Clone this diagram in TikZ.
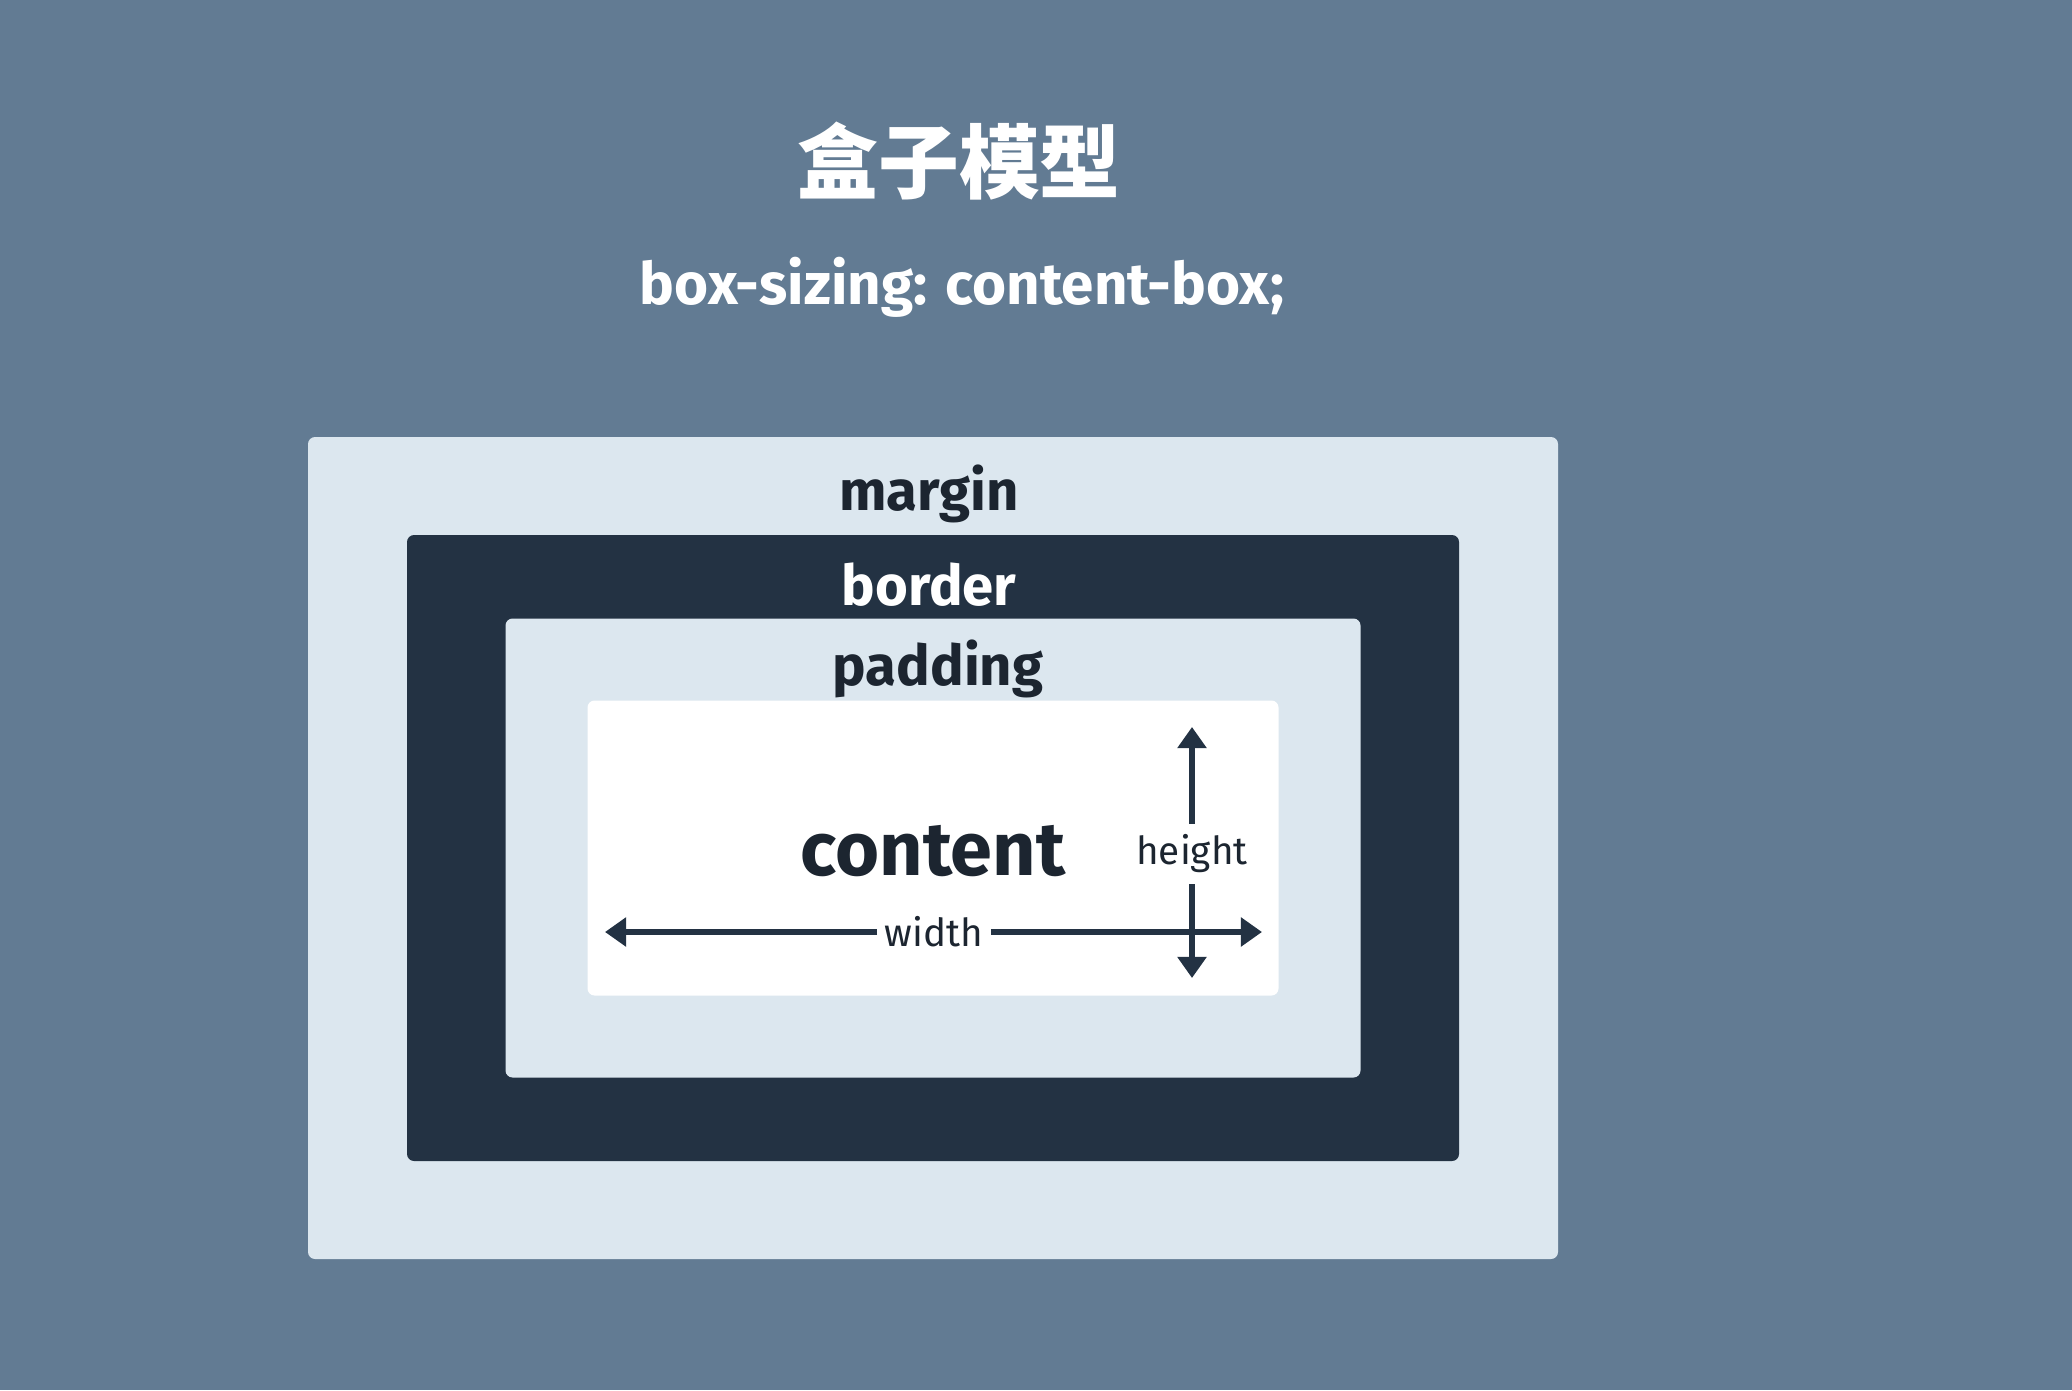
\documentclass[tikz,border=0pt]{standalone}
\usepackage{fontspec}
\setmainfont{Fira Sans}
\newfontfamily\cjk{Noto Sans CJK SC}
\usetikzlibrary{arrows.meta,positioning}
\definecolor{slate}{HTML}{627B93}
\definecolor{mist}{HTML}{DCE7EF}
\definecolor{navy}{HTML}{233243}
\definecolor{ink}{HTML}{1C2530}

\begin{document}
\begin{tikzpicture}[>={Triangle[width=8pt,length=6pt]},
    layer/.style={rounded corners=2pt,inner sep=0pt},
    tag/.style={font=\bfseries\fontsize{16}{18}\selectfont,text=ink,anchor=base},
    dim/.style={fill=white,inner xsep=2pt,inner ysep=3pt,font=\fontsize{11}{13}\selectfont,text=ink},
    dimline/.style={->,line width=1.8pt,draw=navy}]
  \fill[slate] (0,0) rectangle (20.72,13.90);
  \node[font=\cjk\bfseries\fontsize{23}{27}\selectfont,text=white] (title) at (9.59,12.29) {盒子模型};
  \node[font=\bfseries\fontsize{16.6}{19}\selectfont,text=white] (sizing) at (9.62,11.03) {box-sizing: content-box;};
  % nested boxes, all around one centre
  \coordinate (mid) at (9.33,5.42);
  \node[layer,fill=mist,minimum width=12.50cm,minimum height=8.22cm] (margin) at (mid) {};
  \node[layer,fill=navy,minimum width=10.52cm,minimum height=6.26cm] (border) at (mid) {};
  \node[layer,fill=mist,minimum width=8.55cm,minimum height=4.59cm] (padding) at (mid) {};
  \node[layer,fill=white,minimum width=6.91cm,minimum height=2.95cm] (content) at (mid) {};
  \node[tag] (marginlbl) at (9.29,8.80) {margin};
  \node[tag,text=white] (borderlbl) at (9.29,7.85) {border};
  \node[tag] (paddinglbl) at (9.38,7.05) {padding};
  \node[tag,font=\bfseries\fontsize{21.5}{24}\selectfont] (contentlbl) at (9.33,5.15) {content};
  % width / height
  \node[dim] (w) at (9.34,4.58) {width};
  \coordinate (wl) at (6.05,4.58);
  \coordinate (wr) at (12.62,4.58);
  \draw[dimline] (w) -- (wl);
  \draw[dimline] (w) -- (wr);
  \node[dim] (h) at (11.92,5.36) {height};
  \coordinate (ht) at (11.92,6.63);
  \coordinate (hb) at (11.92,4.12);
  \draw[dimline] (h) -- (ht);
  \draw[dimline] (h) -- (hb);
\end{tikzpicture}
\end{document}
